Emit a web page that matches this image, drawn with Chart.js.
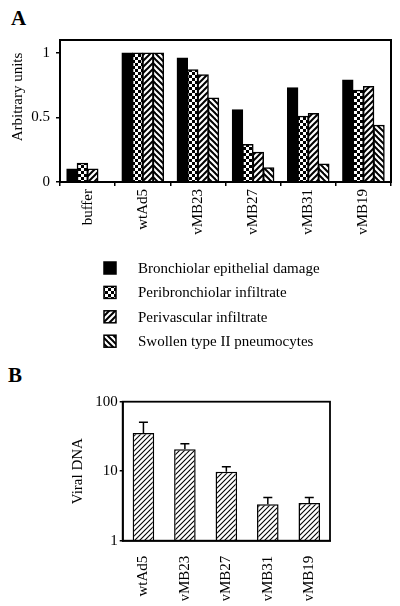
<!DOCTYPE html>
<html>
<head>
<meta charset="utf-8">
<script src="https://cdn.jsdelivr.net/npm/chart.js@4.4.1/dist/chart.umd.min.js"></script>
<style>
  body { margin: 0; background: #fff; width: 400px; height: 606px; position: relative; overflow: hidden; }
  .panel { position: absolute; left: 0; }
  .letter { position: absolute; font: bold 21px/20px "Liberation Serif", "Times New Roman", serif; color: #000; }
</style>
</head>
<body>
<div class="letter" style="left:11px; top:8px;">A</div>
<div class="letter" style="left:8px; top:365px;">B</div>
<canvas id="chartA" class="panel" style="top:0" width="400" height="355"></canvas>
<canvas id="chartB" class="panel" style="top:355px" width="400" height="251"></canvas>
<script>
// =======================
// DATA
// =======================
const categoriasA = ["buffer", "wtAd5", "vMB23", "vMB27", "vMB31", "vMB19"];
const nomesSeries = [
    "Bronchiolar epithelial damage",
    "Peribronchiolar infiltrate",
    "Perivascular infiltrate",
    "Swollen type II pneumocytes"
];
const bronquiolar = [0.10, 1.00, 0.96, 0.56, 0.73, 0.79];
const peribronquiolar = [0.145, 1.00, 0.87, 0.29, 0.51, 0.71];
const perivascular = [0.10, 1.00, 0.83, 0.23, 0.53, 0.74];
const pneumocitos = [null, 1.00, 0.65, 0.11, 0.14, 0.44];
const ticksA = [0, 0.5, 1];

const categoriasB = ["wtAd5", "vMB23", "vMB27", "vMB31", "vMB19"];
const dnaViral = [35.5, 20.7, 9.8, 3.35, 3.5];
const dnaViralErro = [50.5, 24.8, 11.6, 4.2, 4.2];
const ticksB = [1, 10, 100];

// =======================
// CONFIG
// =======================
const FONTE = "'Liberation Serif', 'Times New Roman', serif";
Chart.defaults.font.family = FONTE;
Chart.defaults.font.size = 15;
Chart.defaults.color = "#000";

// =======================
// PADROES
// =======================
function padrao(tipo) {
    const c = document.createElement("canvas");
    const n = tipo === "finas" ? 5 : 6;
    c.width = n;
    c.height = n;
    const g = c.getContext("2d");
    g.fillStyle = "#fff";
    g.fillRect(0, 0, n, n);
    g.fillStyle = "#000";
    g.strokeStyle = "#000";

    if (tipo === "solido") {
        g.fillRect(0, 0, n, n);
    } else if (tipo === "xadrez") {
        g.fillRect(0, 0, 3, 3);
        g.fillRect(3, 3, 3, 3);
    } else {
        g.lineWidth = tipo === "finas" ? 1.1 : 2;
        const linhas = (tipo === "contra")
            ? [[0, 0, n, n], [-1, n - 1, 1, n + 1], [n - 1, -1, n + 1, 1]]
            : [[0, n, n, 0], [-1, 1, 1, -1], [n - 1, n + 1, n + 1, n - 1]];
        linhas.forEach(l => {
            g.beginPath();
            g.moveTo(l[0], l[1]);
            g.lineTo(l[2], l[3]);
            g.stroke();
        });
    }
    return g.createPattern(c, "repeat");
}

// =======================
// PLUGINS
// =======================
const moldura = {
    id: "moldura",
    afterDatasetsDraw(chart, args, opts) {
        const { ctx, chartArea: a } = chart;
        ctx.save();
        ctx.strokeStyle = "#000";
        ctx.lineWidth = opts.largura || 2;
        ctx.strokeRect(a.left, a.top, a.right - a.left, a.bottom - a.top);
        ctx.restore();
    }
};

const tituloLateral = {
    id: "tituloLateral",
    afterDraw(chart, args, opts) {
        if (!opts.texto) return;
        const { ctx, chartArea: a } = chart;
        ctx.save();
        ctx.translate(opts.x, (a.top + a.bottom) / 2 + opts.desvio);
        ctx.rotate(-Math.PI / 2);
        ctx.font = "15px " + FONTE;
        ctx.fillStyle = "#000";
        ctx.textAlign = "center";
        ctx.textBaseline = "middle";
        ctx.fillText(opts.texto, 0, 0);
        ctx.restore();
    }
};

const legendaColuna = {
    id: "legendaColuna",
    afterDraw(chart, args, opts) {
        if (!opts.mostrar) return;
        const { ctx, chartArea: a } = chart;
        ctx.save();
        ctx.font = "15px " + FONTE;
        ctx.textBaseline = "middle";
        chart.data.datasets.forEach((ds, i) => {
            const y = a.bottom + opts.inicio + i * opts.passo;
            ctx.fillStyle = ds.backgroundColor;
            ctx.fillRect(opts.x, y - 6, 12, 12);
            ctx.strokeStyle = "#000";
            ctx.lineWidth = 1.5;
            ctx.strokeRect(opts.x, y - 6, 12, 12);
            ctx.fillStyle = "#000";
            ctx.fillText(ds.label, opts.xTexto, y + 1);
        });
        ctx.restore();
    }
};

const barrasErro = {
    id: "barrasErro",
    afterDatasetsDraw(chart, args, opts) {
        if (!opts.valores) return;
        const { ctx } = chart;
        const y = chart.scales.y;
        const meta = chart.getDatasetMeta(0);
        ctx.save();
        ctx.strokeStyle = "#000";
        ctx.lineWidth = 1.5;
        meta.data.forEach((bar, i) => {
            const topo = y.getPixelForValue(opts.valores[i]);
            ctx.beginPath();
            ctx.moveTo(bar.x, bar.y);
            ctx.lineTo(bar.x, topo);
            ctx.moveTo(bar.x - 4.5, topo);
            ctx.lineTo(bar.x + 4.5, topo);
            ctx.stroke();
        });
        ctx.restore();
    }
};

// =======================
// GRAFICO A
// =======================
const estilosA = [padrao("solido"), padrao("xadrez"), padrao("barra"), padrao("contra")];
const seriesA = [bronquiolar, peribronquiolar, perivascular, pneumocitos];

new Chart(document.getElementById("chartA"), {
    type: "bar",
    data: {
        labels: categoriasA,
        datasets: seriesA.map((dados, i) => ({
            label: nomesSeries[i],
            data: dados,
            backgroundColor: estilosA[i],
            borderColor: "#000",
            borderWidth: 1.5,
            inflateAmount: 0.5,
            barPercentage: 1,
            categoryPercentage: 0.754
        }))
    },
    options: {
        responsive: false,
        animation: false,
        layout: { padding: { top: 40, right: 9, left: 0, bottom: 113 } },
        plugins: {
            legend: { display: false },
            tooltip: { enabled: false },
            moldura: { largura: 2 },
            tituloLateral: { texto: "Arbitrary units", x: 18, desvio: -14 },
            legendaColuna: { mostrar: true, x: 104, xTexto: 138, inicio: 86, passo: 24.4 }
        },
        scales: {
            x: {
                grid: { offset: true, drawOnChartArea: false, color: "#000", tickLength: 4, lineWidth: 1.5 },
                border: { display: true, color: "#000", width: 2 },
                ticks: { minRotation: 90, maxRotation: 90, padding: 3, autoSkip: false },
                afterFit(s) { s.height = 60; }
            },
            y: {
                min: 0,
                max: 1.1,
                grid: { drawOnChartArea: false, color: "#000", tickLength: 4, lineWidth: 1.5 },
                border: { display: true, color: "#000", width: 2 },
                ticks: { padding: 6, callback: v => String(v) },
                afterBuildTicks(s) { s.ticks = ticksA.map(v => ({ value: v })); },
                afterFit(s) { s.width = 60; }
            }
        }
    },
    plugins: [moldura, tituloLateral, legendaColuna]
});

// =======================
// GRAFICO B
// =======================
new Chart(document.getElementById("chartB"), {
    type: "bar",
    data: {
        labels: categoriasB,
        datasets: [{
            label: "Viral DNA",
            data: dnaViral,
            backgroundColor: padrao("finas"),
            borderColor: "#000",
            borderWidth: 1.5,
            barPercentage: 0.52,
            categoryPercentage: 1
        }]
    },
    options: {
        responsive: false,
        animation: false,
        layout: { padding: { top: 46.7, right: 70, left: 62, bottom: 5.3 } },
        plugins: {
            legend: { display: false },
            tooltip: { enabled: false },
            moldura: { largura: 1.8 },
            barrasErro: { valores: dnaViralErro }
        },
        scales: {
            x: {
                grid: { display: false },
                border: { display: true, color: "#000", width: 1.8 },
                ticks: { minRotation: 90, maxRotation: 90, padding: 7, autoSkip: false },
                afterFit(s) { s.height = 60; }
            },
            y: {
                type: "logarithmic",
                min: 1,
                max: 100,
                grid: { drawOnChartArea: false, color: "#000", tickLength: 3, lineWidth: 1.5 },
                border: { display: true, color: "#000", width: 1.8 },
                ticks: { padding: 2, callback: v => String(v) },
                title: { display: true, text: "Viral DNA", padding: { top: 7, bottom: 0 } },
                afterBuildTicks(s) { s.ticks = ticksB.map(v => ({ value: v })); },
                afterFit(s) { s.width = 60.7; }
            }
        }
    },
    plugins: [moldura, barrasErro]
});
</script>
</body>
</html>
